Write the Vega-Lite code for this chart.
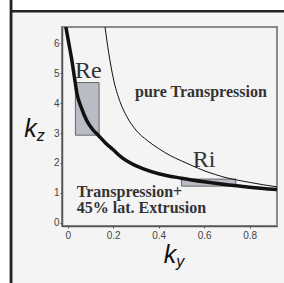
{
  "$schema": "https://vega.github.io/schema/vega-lite/v6.json",
  "autosize": {"type": "none"},
  "width": 215,
  "height": 199,
  "padding": {"left": 62, "top": 27, "right": 7, "bottom": 57},
  "background": "#f3f4f3",
  "config": {
    "view": {"stroke": "#8a8a8a", "strokeWidth": 2},
    "axis": {
      "grid": false,
      "title": null,
      "domainColor": "#555",
      "domainWidth": 1.5,
      "tickColor": "#555",
      "tickSize": 2,
      "labelColor": "#444",
      "labelFont": "Liberation Sans",
      "labelFontSize": 10
    }
  },
  "datasets": {
    "thick": [
      {"ky": -0.008, "kz": 6.55}, {"ky": 0.005, "kz": 6.0}, {"ky": 0.018, "kz": 5.45},
      {"ky": 0.03, "kz": 4.85}, {"ky": 0.04, "kz": 4.35}, {"ky": 0.06, "kz": 3.85},
      {"ky": 0.085, "kz": 3.4}, {"ky": 0.11, "kz": 3.12}, {"ky": 0.135, "kz": 2.92},
      {"ky": 0.165, "kz": 2.68}, {"ky": 0.2, "kz": 2.44}, {"ky": 0.24, "kz": 2.17},
      {"ky": 0.28, "kz": 1.98}, {"ky": 0.33, "kz": 1.81}, {"ky": 0.4, "kz": 1.64},
      {"ky": 0.5, "kz": 1.49}, {"ky": 0.6, "kz": 1.37}, {"ky": 0.7, "kz": 1.27},
      {"ky": 0.8, "kz": 1.19}, {"ky": 0.92, "kz": 1.11}
    ],
    "thin": [
      {"ky": 0.164, "kz": 6.55}, {"ky": 0.18, "kz": 5.7}, {"ky": 0.2, "kz": 4.85},
      {"ky": 0.23, "kz": 4.05}, {"ky": 0.26, "kz": 3.55}, {"ky": 0.3, "kz": 3.1},
      {"ky": 0.35, "kz": 2.75}, {"ky": 0.4, "kz": 2.48}, {"ky": 0.45, "kz": 2.25},
      {"ky": 0.5, "kz": 2.07}, {"ky": 0.55, "kz": 1.9}, {"ky": 0.6, "kz": 1.74},
      {"ky": 0.65, "kz": 1.61}, {"ky": 0.7, "kz": 1.5}, {"ky": 0.75, "kz": 1.42},
      {"ky": 0.8, "kz": 1.35}, {"ky": 0.86, "kz": 1.27}, {"ky": 0.92, "kz": 1.2}
    ],
    "boxes": [
      {"name": "Re", "ky1": 0.034, "ky2": 0.138, "kz1": 2.93, "kz2": 4.69},
      {"name": "Ri", "ky1": 0.5, "ky2": 0.739, "kz1": 1.225, "kz2": 1.46}
    ],
    "boxlabels": [
      {"ky": 0.091, "kz": 4.83, "label": "Re"},
      {"ky": 0.6, "kz": 1.87, "label": "Ri"}
    ],
    "regions": [
      {"ky": 0.296, "kz": 4.21, "label": "pure Transpression"},
      {"ky": 0.04, "kz": 0.867, "label": "Transpression+"},
      {"ky": 0.04, "kz": 0.31, "label": "45% lat. Extrusion"}
    ],
    "axisk": [
      {"ky": -0.164, "kz": 2.865, "label": "k"},
      {"ky": 0.45, "kz": -1.352, "label": "k"}
    ],
    "axissub": [
      {"ky": -0.118, "kz": 2.73, "label": "z"},
      {"ky": 0.495, "kz": -1.486, "label": "y"}
    ]
  },
  "encoding": {
    "x": {"type": "quantitative", "scale": {"domain": [-0.025, 0.92], "nice": false, "zero": false},
          "axis": {"values": [0, 0.2, 0.4, 0.6, 0.8], "format": "~g", "labelPadding": 2}},
    "y": {"type": "quantitative", "scale": {"domain": [-0.11, 6.55], "nice": false, "zero": false},
          "axis": {"values": [0, 1, 2, 3, 4, 5, 6], "format": "d", "labelPadding": 1}}
  },
  "layer": [
    {
      "data": {"values": [{}]},
      "mark": {"type": "rect", "fill": "white", "clip": false},
      "encoding": {
        "x": {"datum": -0.3}, "x2": {"datum": 1.0},
        "y": {"datum": 7.07}, "y2": {"datum": 7.6}
      }
    },
    {
      "data": {"values": [{}]},
      "mark": {"type": "rect", "fill": "white", "clip": false},
      "encoding": {
        "x": {"datum": -0.3}, "x2": {"datum": -0.249},
        "y": {"datum": -2.2}, "y2": {"datum": 7.6}
      }
    },
    {
      "data": {"values": [{}]},
      "mark": {"type": "rule", "stroke": "#222", "strokeWidth": 2.8, "clip": false},
      "encoding": {
        "x": {"datum": -0.249},
        "y": {"datum": 7.6}, "y2": {"datum": -2.2}
      }
    },
    {
      "data": {"values": [{}]},
      "mark": {"type": "rule", "stroke": "#222", "strokeWidth": 2.5, "clip": false},
      "encoding": {
        "x": {"datum": -0.249}, "x2": {"datum": 1.0},
        "y": {"datum": 7.075}
      }
    },
    {
      "data": {"name": "boxes"},
      "mark": {"type": "rect", "fill": "#b9bcc4", "stroke": "#666", "strokeWidth": 1},
      "encoding": {
        "x": {"field": "ky1", "type": "quantitative"}, "x2": {"field": "ky2"},
        "y": {"field": "kz1", "type": "quantitative"}, "y2": {"field": "kz2"}
      }
    },
    {
      "data": {"name": "thin"},
      "mark": {"type": "line", "stroke": "#111", "strokeWidth": 1, "interpolate": "monotone", "clip": true},
      "encoding": {
        "x": {"field": "ky", "type": "quantitative"},
        "y": {"field": "kz", "type": "quantitative"}
      }
    },
    {
      "data": {"name": "thick"},
      "mark": {"type": "line", "stroke": "#111", "strokeWidth": 3.5, "interpolate": "monotone", "clip": true},
      "encoding": {
        "x": {"field": "ky", "type": "quantitative"},
        "y": {"field": "kz", "type": "quantitative"}
      }
    },
    {
      "data": {"name": "boxlabels"},
      "mark": {"type": "text", "font": "Liberation Serif", "fontSize": 24, "fill": "#333", "align": "center", "baseline": "alphabetic"},
      "encoding": {
        "x": {"field": "ky", "type": "quantitative"},
        "y": {"field": "kz", "type": "quantitative"},
        "text": {"field": "label"}
      }
    },
    {
      "data": {"name": "regions"},
      "mark": {"type": "text", "font": "Liberation Serif", "fontWeight": "bold", "fontSize": 16, "fill": "#333", "align": "left", "baseline": "alphabetic"},
      "encoding": {
        "x": {"field": "ky", "type": "quantitative"},
        "y": {"field": "kz", "type": "quantitative"},
        "text": {"field": "label"}
      }
    },
    {
      "data": {"name": "axisk"},
      "mark": {"type": "text", "font": "Liberation Sans", "fontStyle": "italic", "fontSize": 25, "fill": "#111", "align": "center", "baseline": "alphabetic", "clip": false},
      "encoding": {
        "x": {"field": "ky", "type": "quantitative"},
        "y": {"field": "kz", "type": "quantitative"},
        "text": {"field": "label"}
      }
    },
    {
      "data": {"name": "axissub"},
      "mark": {"type": "text", "font": "Liberation Sans", "fontStyle": "italic", "fontSize": 16, "fill": "#111", "align": "center", "baseline": "alphabetic", "clip": false},
      "encoding": {
        "x": {"field": "ky", "type": "quantitative"},
        "y": {"field": "kz", "type": "quantitative"},
        "text": {"field": "label"}
      }
    }
  ]
}
